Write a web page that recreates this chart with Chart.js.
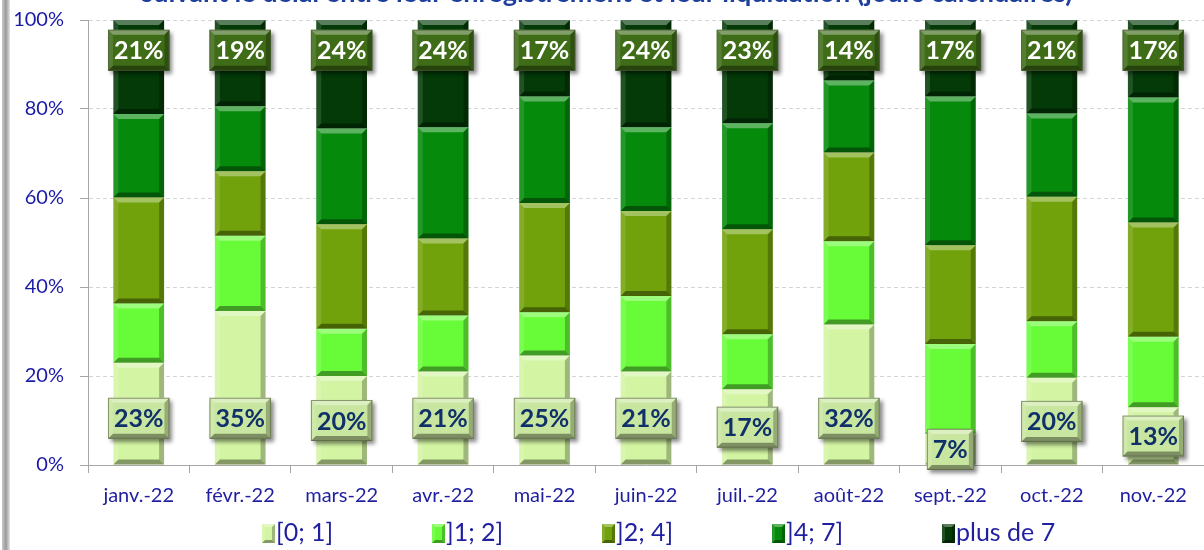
<!DOCTYPE html>
<html>
<head>
<meta charset="utf-8">
<script src="https://cdn.jsdelivr.net/npm/chart.js"></script>
<style>
  body { margin: 0; background: #fff; }
  #wrap { width: 1204px; height: 550px; }
</style>
</head>
<body>
<div id="wrap"><canvas id="delaiChart" width="1204" height="550"></canvas></div>
<script>
// categories and series (in %)
const months = ['janv.-22', 'févr.-22', 'mars-22', 'avr.-22', 'mai-22', 'juin-22',
                'juil.-22', 'août-22', 'sept.-22', 'oct.-22', 'nov.-22'];
const seriesNames = ['[0; 1]', ']1; 2]', ']2; 4]', ']4; 7]', 'plus de 7'];

const d0to1   = [23, 34.6, 20, 21, 24.6, 21, 17, 31.6, 7, 19.6, 13];
const d1to2   = [13.3, 16.9, 10.6, 12.6, 9.7, 17, 12.4, 18.7, 20.2, 12.7, 15.8];
const d2to4   = [23.8, 14.5, 23.5, 17.3, 24.6, 19.1, 23.6, 19.9, 22.2, 28, 25.7];
const d4to7   = [18.8, 14.6, 21.5, 25, 23.9, 18.8, 23.8, 16.2, 33.4, 18.7, 28.1];
const dOver7  = [21.1, 19.4, 24.4, 24.1, 17.2, 24.1, 23.2, 13.6, 17.2, 21, 17.4];

const yTicks = [0, 20, 40, 60, 80, 100];

const titleText = 'suivant le délai entre leur enregistrement et leur liquidation (jours calendaires)';

const colors = ['#d3f5a3', '#68fc38', '#72a20b', '#058a0c', '#033a07'];
const fontName = 'Lato, "Open Sans", sans-serif';

function poly(ctx, pts) {
  ctx.beginPath();
  ctx.moveTo(pts[0][0], pts[0][1]);
  for (let i = 1; i < pts.length; i++) ctx.lineTo(pts[i][0], pts[i][1]);
  ctx.closePath();
  ctx.fill();
}

// light top / dark bottom edges, like the Excel bevel
function bevel(ctx, x0, y0, x1, y1, b) {
  if (y1 - y0 < 2 * b) b = Math.max(1, (y1 - y0) / 2);
  ctx.save();
  ctx.fillStyle = 'rgba(255,255,255,0.35)';
  poly(ctx, [[x0, y0], [x1, y0], [x1 - b, y0 + b], [x0 + b, y0 + b]]);
  ctx.fillStyle = 'rgba(0,0,0,0.38)';
  poly(ctx, [[x0, y1], [x1, y1], [x1 - b, y1 - b], [x0 + b, y1 - b]]);
  ctx.fillStyle = 'rgba(255,255,255,0.12)';
  poly(ctx, [[x0, y0], [x0 + b, y0 + b], [x0 + b, y1 - b], [x0, y1]]);
  ctx.fillStyle = 'rgba(0,0,0,0.25)';
  poly(ctx, [[x1, y0], [x1 - b, y0 + b], [x1 - b, y1 - b], [x1, y1]]);
  ctx.restore();
}

function labelBox(ctx, xc, yc, text, fill, textColor) {
  ctx.save();
  ctx.font = 'bold 25px ' + fontName;
  const w = ctx.measureText(text).width + 12;
  const h = 41;
  const x0 = xc - w / 2, y0 = yc - h / 2;
  ctx.shadowColor = 'rgba(0,0,0,0.45)';
  ctx.shadowOffsetX = 3;
  ctx.shadowOffsetY = 3;
  ctx.shadowBlur = 4;
  ctx.fillStyle = fill;
  ctx.fillRect(x0, y0, w, h);
  ctx.shadowColor = 'transparent';
  bevel(ctx, x0, y0, x0 + w, y0 + h, 5);
  ctx.strokeStyle = 'rgba(80,90,60,0.6)';
  ctx.lineWidth = 1;
  ctx.strokeRect(x0 + 0.5, y0 + 0.5, w - 1, h - 1);
  ctx.fillStyle = textColor;
  ctx.textAlign = 'center';
  ctx.textBaseline = 'middle';
  ctx.fillText(text, xc, yc + 1);
  ctx.restore();
}

const decorPlugin = {
  id: 'decor',
  afterDatasetsDraw(chart) {
    const ctx = chart.ctx;
    chart.data.datasets.forEach((ds, di) => {
      chart.getDatasetMeta(di).data.forEach(el => {
        const p = el.getProps(['x', 'y', 'base', 'width'], true);
        const x0 = p.x - p.width / 2, x1 = p.x + p.width / 2;
        bevel(ctx, x0, Math.min(p.y, p.base), x1, Math.max(p.y, p.base), 5);
      });
    });
    const yScale = chart.scales.y;
    const bottomMeta = chart.getDatasetMeta(0);
    const topMeta = chart.getDatasetMeta(4);
    months.forEach((m, i) => {
      const vb = d0to1[i];
      const yb = yScale.getPixelForValue(Math.min(vb / 2, 10.5));
      labelBox(ctx, bottomMeta.data[i].x, yb, Math.round(vb) + '%', '#c8e69f', '#10306a');
      const vt = dOver7[i];
      const yt = yScale.getPixelForValue(93.2);
      labelBox(ctx, topMeta.data[i].x, yt, Math.round(vt) + '%', '#3e6c17', '#ffffff');
    });
  },
  afterDraw(chart) {
    const ctx = chart.ctx;
    ctx.save();
    // left frame edge
    const g = ctx.createLinearGradient(2, 0, 10, 0);
    g.addColorStop(0, '#c8c8c8');
    g.addColorStop(0.5, '#9a9a9a');
    g.addColorStop(1, '#e6e6e6');
    ctx.fillStyle = g;
    ctx.fillRect(2, 0, 8, 550);
    // title, cut by the top edge
    ctx.font = 'bold 27px ' + fontName;
    ctx.fillStyle = '#1f3f9f';
    ctx.textAlign = 'center';
    ctx.textBaseline = 'alphabetic';
    ctx.fillText(titleText, 607, 2);
    // legend, evenly spaced like the original
    ctx.font = '25px ' + fontName;
    ctx.textBaseline = 'middle';
    ctx.textAlign = 'left';
    chart.data.datasets.forEach((ds, i) => {
      const bx = 262 + i * 170, by = 533;
      ctx.fillStyle = ds.backgroundColor;
      ctx.fillRect(bx, by - 9, 13, 19);
      bevel(ctx, bx, by - 9, bx + 13, by + 10, 3);
      ctx.fillStyle = '#1f1fa0';
      ctx.fillText(ds.label, bx + 14, by);
    });
    ctx.restore();
  }
};

const seriesData = [d0to1, d1to2, d2to4, d4to7, dOver7];

const ctx = document.getElementById('delaiChart').getContext('2d');
const chart = new Chart(ctx, {
  type: 'bar',
  data: {
    labels: months,
    datasets: seriesNames.map((name, i) => ({
      label: name,
      data: seriesData[i],
      backgroundColor: colors[i],
      borderWidth: 0,
      barPercentage: 0.5,
      categoryPercentage: 1
    }))
  },
  options: {
    responsive: false,
    animation: false,
    devicePixelRatio: 1,
    layout: { padding: { top: 20, left: 0, right: 0, bottom: 35 } },
    scales: {
      x: {
        stacked: true,
        grid: { drawOnChartArea: false, drawTicks: true, tickLength: 8, color: '#a6a6a6', offset: true },
        border: { color: '#a6a6a6', width: 1 },
        ticks: { color: '#1f1fa0', font: { family: fontName, size: 20 }, padding: 11 },
        afterFit(scale) { scale.height = 50; scale.paddingLeft = 0; scale.paddingRight = 0; }
      },
      y: {
        stacked: true,
        min: 0,
        max: 100,
        afterBuildTicks(scale) { scale.ticks = yTicks.map(v => ({ value: v })); },
        grid: { color: '#d4d4d4', tickColor: '#a6a6a6', tickLength: 8 },
        border: { color: '#a6a6a6', width: 1, dash: [4, 3] },
        ticks: {
          color: '#1a1aa6',
          font: { family: fontName, size: 20 },
          padding: 16,
          callback: v => v + '%'
        },
        afterFit(scale) { scale.width = 88; scale.paddingTop = 0; scale.paddingBottom = 0; }
      }
    },
    plugins: {
      legend: { display: false },
      tooltip: { enabled: false },
      title: { display: false }
    }
  },
  plugins: [decorPlugin]
});
</script>
</body>
</html>
